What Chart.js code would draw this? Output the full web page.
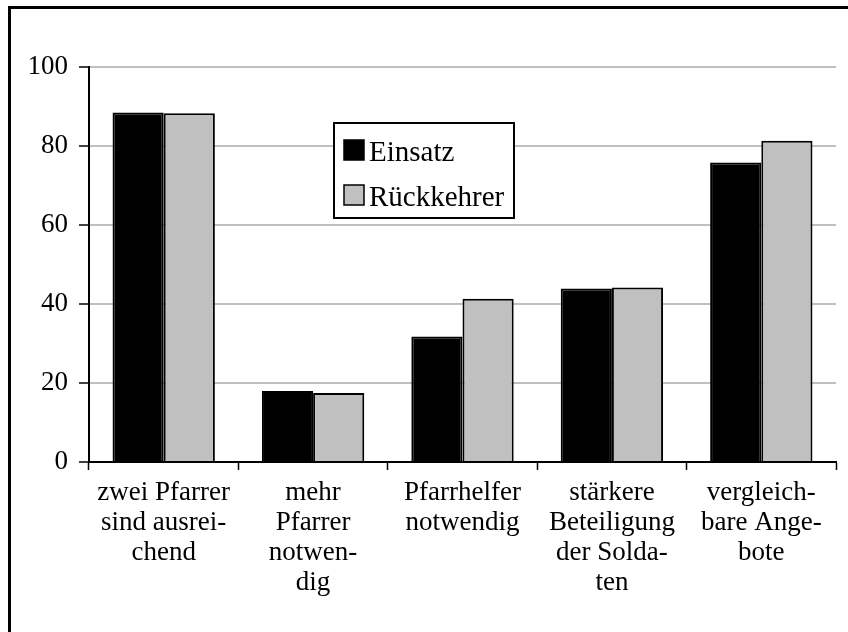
<!DOCTYPE html>
<html>
<head>
<meta charset="utf-8">
<script src="https://cdn.jsdelivr.net/npm/chart.js@4.4.1/dist/chart.umd.min.js"></script>
<style>
  html, body { margin: 0; padding: 0; background: #fff; }
  #wrap { width: 848px; height: 632px; position: relative; }
</style>
</head>
<body>
<div id="wrap"><canvas id="grafico"></canvas></div>
<script>
var categories = [
  ['zwei Pfarrer', 'sind ausrei-', 'chend'],
  ['mehr', 'Pfarrer', 'notwen-', 'dig'],
  ['Pfarrhelfer', 'notwendig'],
  ['stärkere', 'Beteiligung', 'der Solda-', 'ten'],
  ['vergleich-', 'bare Ange-', 'bote']
];
var einsatz = [88.5, 18.0, 31.8, 43.9, 75.8];
var rueckkehrer = [88.3, 17.5, 41.3, 44.2, 81.3];
var yTicks = [0, 20, 40, 60, 80, 100];

var fontFam = '"Liberation Serif", "Times New Roman", serif';

// frame around the whole picture (runs off right and bottom)
var framePlugin = {
  id: 'frame',
  beforeDraw: function(chart) {
    var c = chart.ctx;
    c.save();
    c.fillStyle = '#fff';
    c.fillRect(0, 0, chart.width, chart.height);
    c.strokeStyle = '#000';
    c.lineWidth = 3;
    c.beginPath();
    c.moveTo(9.5, chart.height + 5);
    c.lineTo(9.5, 7.5);
    c.lineTo(chart.width + 5, 7.5);
    c.stroke();
    c.restore();
  }
};

// boxed legend inside the plot
var legendPlugin = {
  id: 'boxLegend',
  afterDraw: function(chart) {
    var c = chart.ctx;
    var x = 334, y = 123, w = 180, h = 95;
    c.save();
    c.fillStyle = '#fff';
    c.fillRect(x, y, w, h);
    c.strokeStyle = '#000';
    c.lineWidth = 2;
    c.strokeRect(x, y, w, h);
    c.font = '29px ' + fontFam;
    c.textBaseline = 'alphabetic';
    chart.data.datasets.forEach(function(ds, i) {
      var sy = 140 + i * 45;
      c.fillStyle = ds.backgroundColor;
      c.fillRect(344, sy, 20, 20);
      c.lineWidth = 1.5;
      c.strokeStyle = '#000';
      c.strokeRect(344, sy, 20, 20);
      c.fillStyle = '#000';
      c.fillText(ds.label, 369, sy + 21);
    });
    c.restore();
  }
};

var data = {
  labels: categories,
  datasets: [{
    label: 'Einsatz',
    data: einsatz,
    backgroundColor: '#000000',
    borderColor: '#000000',
    borderWidth: 2
  }, {
    label: 'Rückkehrer',
    data: rueckkehrer,
    backgroundColor: '#c0c0c0',
    borderColor: '#000000',
    borderWidth: 2
  }]
};

var options = {
  responsive: false,
  animation: false,
  layout: { padding: { top: 67, right: 12, left: 0, bottom: 0 } },
  datasets: { bar: { categoryPercentage: 0.685, barPercentage: 1.0 } },
  plugins: {
    legend: { display: false },
    tooltip: { enabled: false }
  },
  scales: {
    x: {
      offset: true,
      afterFit: function(scale) { scale.height = 170; },
      grid: {
        drawOnChartArea: false,
        drawTicks: true,
        tickLength: 8,
        tickColor: '#000',
        tickWidth: 1.5,
        offset: true
      },
      border: { color: '#000', width: 2 },
      ticks: {
        color: '#000',
        padding: 8,
        maxRotation: 0,
        autoSkip: false,
        font: { family: fontFam, size: 27, lineHeight: '30px' }
      }
    },
    y: {
      min: 0,
      max: 100,
      afterFit: function(scale) { scale.width = 89; },
      afterBuildTicks: function(scale) {
        scale.ticks = yTicks.map(function(v) { return { value: v }; });
      },
      grid: {
        color: '#c0c0c0',
        lineWidth: 2,
        tickLength: 10,
        tickColor: '#000',
        tickWidth: 1.5
      },
      border: { color: '#000', width: 2 },
      ticks: {
        color: '#000',
        padding: 11,
        font: { family: fontFam, size: 27 }
      }
    }
  }
};

var ctx = document.getElementById('grafico');
ctx.width = 848;
ctx.height = 632;
var chart = new Chart(ctx, {
  type: 'bar',
  data: data,
  options: options,
  plugins: [framePlugin, legendPlugin]
});
</script>
</body>
</html>
